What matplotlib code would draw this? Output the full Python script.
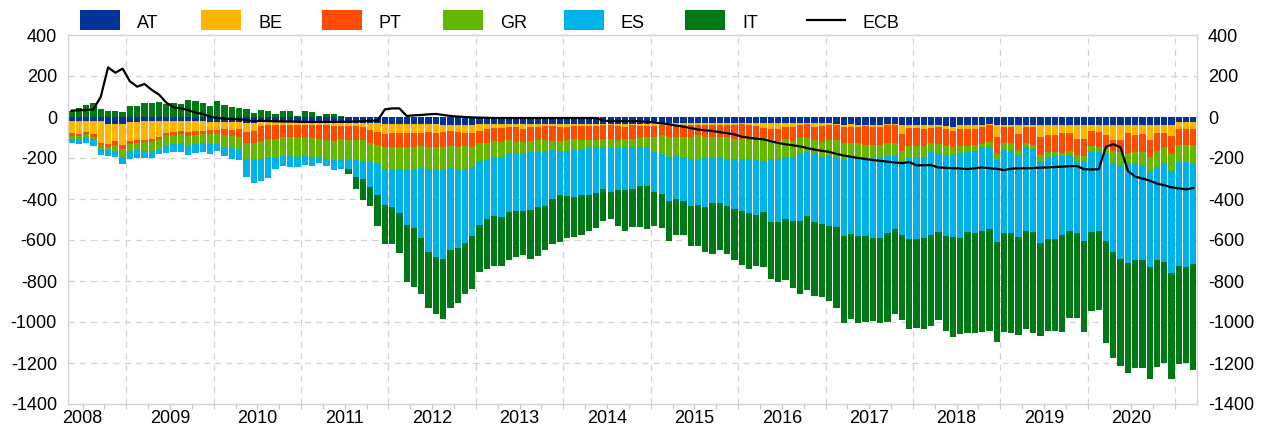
import numpy as np
import pandas as pd
import matplotlib
matplotlib.use("Agg")
import matplotlib.pyplot as plt
from matplotlib.patches import Rectangle
from matplotlib.lines import Line2D

plt.rcParams['font.family'] = ['Liberation Sans', 'DejaVu Sans']

# Monthly observations, May 2008 - March 2021 (EUR bn)
months = pd.period_range('2008-05', '2021-03', freq='M')

AT = [
    -20, -20, -18, -20, -20, -36, -36, -36,
    -25, -22, -20, -20, -20, -20, -20, -20, -20, -20, -20, -22,
    -22, -24, -24, -26, -28, -28, -26, -26, -26, -26, -26, -26,
    -26, -26, -26, -26, -28, -28, -28, -28, -28, -28, -30, -34,
    -34, -34, -34, -34, -34, -36, -36, -37, -37, -37, -37, -37,
    -36, -36, -35, -35, -35, -35, -35, -35, -35, -35, -35, -35,
    -35, -35, -35, -35, -35, -33, -33, -33, -33, -33, -33, -33,
    -31, -31, -31, -31, -31, -31, -31, -31, -31, -31, -31, -31,
    -31, -31, -31, -31, -31, -31, -31, -31, -31, -31, -31, -31,
    -31, -34, -37, -34, -41, -37, -37, -41, -34, -34, -41, -37,
    -37, -37, -37, -41, -44, -50, -37, -41, -37, -37, -34, -37,
    -37, -37, -37, -37, -37, -37, -37, -37, -37, -37, -37, -37,
    -37, -37, -37, -37, -37, -37, -37, -37, -37, -37, -37, -37,
    -24, -24, -24,
]

BE = [
    -56, -63, -55, -61, -107, -94, -83, -102,
    -92, -90, -91, -89, -79, -56, -52, -48, -53, -48, -47, -41,
    -41, -35, -39, -33, -44, -40, -19, -15, -15, -14, -14, -12,
    -14, -14, -14, -14, -14, -14, -16, -18, -20, -35, -42, -49,
    -46, -42, -42, -46, -42, -37, -44, -36, -33, -36, -39, -43,
    -31, -24, -19, -19, -15, -15, -22, -15, -12, -9, -9, -12,
    -12, -9, -9, -9, -9, -4, -8, -11, -14, -7, -9, -9,
    -14, -10, -10, -10, -10, -10, -10, -10, -10, -10, -10, -9,
    -3, -10, -13, -23, -29, -26, -19, -16, -10, -3, -16, -13,
    -6, -7, -13, -13, -9, -7, -10, -6, -7, -7, -42, -17,
    -17, -23, -18, -9, -16, -17, -20, -19, -23, -13, -7, -59,
    -13, -10, -46, -10, -13, -62, -49, -49, -39, -43, -69, -69,
    -30, -36, -53, -73, -73, -43, -51, -46, -75, -43, -43, -56,
    -36, -36, -36,
]

PT = [
    -15, -11, -12, -15, -11, -16, -19, -16,
    -13, -15, -13, -11, -13, -13, -16, -15, -18, -18, -18, -20,
    -13, -29, -30, -40, -53, -57, -70, -68, -65, -59, -59, -61,
    -61, -61, -66, -72, -73, -67, -68, -66, -64, -62, -65, -65,
    -68, -72, -69, -65, -65, -72, -68, -75, -71, -75, -65, -65,
    -61, -65, -61, -66, -62, -70, -63, -65, -65, -68, -71, -68,
    -65, -63, -68, -68, -68, -69, -65, -68, -62, -69, -59, -56,
    -51, -48, -58, -55, -55, -55, -48, -55, -55, -58, -55, -69,
    -75, -71, -68, -48, -49, -58, -59, -70, -60, -70, -65, -76,
    -75, -71, -78, -81, -78, -91, -88, -88, -87, -84, -81, -87,
    -87, -81, -70, -82, -81, -81, -84, -81, -75, -82, -79, -84,
    -78, -81, -78, -81, -85, -88, -85, -85, -98, -84, -81, -84,
    -74, -72, -55, -55, -60, -97, -81, -86, -81, -84, -68, -87,
    -77, -77, -77,
]

GR = [
    -18, -20, -19, -16, -16, -17, -28, -40,
    -34, -34, -43, -46, -49, -48, -45, -45, -49, -46, -43, -50,
    -49, -60, -58, -62, -81, -81, -91, -93, -87, -90, -90, -96,
    -89, -92, -92, -91, -95, -101, -94, -98, -101, -96, -92, -104,
    -107, -107, -110, -107, -107, -107, -107, -107, -106, -111, -111, -100,
    -88, -81, -80, -82, -65, -54, -57, -56, -57, -52, -46, -49,
    -54, -54, -42, -36, -33, -42, -47, -41, -36, -39, -44, -47,
    -76, -91, -98, -94, -101, -109, -121, -102, -99, -96, -109, -96,
    -96, -94, -98, -111, -96, -90, -88, -76, -73, -65, -65, -73,
    -78, -90, -78, -74, -65, -62, -63, -58, -62, -60, -54, -57,
    -52, -52, -44, -45, -43, -39, -36, -30, -32, -16, -28, -30,
    -30, -36, -24, -20, -23, -26, -22, -19, -16, -23, -26, -23,
    -26, -26, -35, -60, -70, -49, -57, -65, -74, -78, -78, -83,
    -81, -76, -89,
]

ES = [
    -19, -18, -24, -28, -30, -27, -28, -37,
    -39, -41, -33, -32, -19, -40, -39, -43, -45, -42, -41, -47,
    -39, -42, -54, -49, -85, -114, -108, -94, -61, -50, -53, -51,
    -44, -46, -25, -36, -49, -45, -49, -84, -88, -119, -151, -177,
    -186, -215, -272, -291, -344, -405, -426, -438, -402, -380, -361, -334,
    -309, -290, -286, -284, -286, -283, -282, -283, -268, -270, -241, -215,
    -218, -231, -226, -231, -224, -205, -211, -203, -211, -203, -192, -192,
    -195, -197, -213, -210, -213, -228, -221, -243, -226, -223, -229, -242,
    -252, -264, -268, -250, -306, -306, -301, -316, -335, -316, -334, -329,
    -340, -333, -374, -369, -387, -383, -390, -395, -377, -363, -357, -395,
    -404, -399, -408, -384, -396, -400, -411, -388, -397, -410, -400, -400,
    -406, -403, -402, -406, -403, -403, -404, -407, -387, -367, -354, -390,
    -392, -383, -423, -435, -451, -485, -472, -464, -463, -456, -481, -500,
    -509, -517, -491,
]

IT = [
    31, 45, 58, 70, 39, 28, 28, 24,
    52, 55, 70, 68, 73, 63, 68, 62, 83, 80, 70, 55,
    76, 60, 49, 44, 37, 21, 34, 28, 15, 31, 31, 5,
    28, 24, 5, 13, 15, 5, -23, -59, -104, -92, -150, -192,
    -180, -195, -276, -285, -273, -276, -280, -294, -284, -267, -250, -262,
    -231, -244, -246, -241, -235, -228, -213, -237, -239, -215, -219, -229,
    -205, -192, -197, -175, -171, -153, -135, -176, -198, -184, -201, -211,
    -165, -164, -197, -177, -166, -195, -197, -216, -246, -229, -234, -251,
    -263, -273, -249, -267, -279, -292, -297, -324, -356, -359, -361, -358,
    -368, -398, -423, -414, -427, -418, -405, -419, -431, -413, -415, -443,
    -434, -444, -443, -429, -464, -485, -471, -493, -491, -489, -496, -486,
    -483, -485, -476, -482, -491, -452, -445, -445, -473, -428, -412, -444,
    -387, -387, -498, -514, -524, -539, -525, -525, -550, -520, -495, -517,
    -480, -468, -517,
]

ECB = [
    31, 33, 34, 37, 99, 242, 216, 236,
    174, 148, 161, 132, 109, 70, 47, 42, 34, 21, 15, 2,
    -5, -8, -10, -11, -15, -21, -18, -20, -21, -22, -22, -23,
    -24, -24, -24, -24, -24, -24, -23, -22, -20, -18, -18, 37,
    42, 42, 5, 8, 10, 13, 15, 10, 5, 2, 0, -2,
    -3, -4, -5, -5, -5, -5, -5, -5, -5, -5, -5, -5,
    -5, -5, -5, -5, -5, -18, -20, -20, -20, -20, -21, -23,
    -27, -31, -35, -42, -47, -54, -61, -65, -68, -74, -79, -85,
    -96, -101, -106, -109, -118, -127, -133, -138, -143, -152, -159, -165,
    -170, -180, -188, -194, -200, -205, -210, -214, -218, -222, -225, -220,
    -236, -235, -235, -246, -248, -250, -251, -254, -250, -246, -250, -253,
    -259, -252, -250, -250, -249, -247, -246, -244, -242, -240, -239, -255,
    -256, -255, -145, -133, -148, -262, -291, -300, -310, -325, -333, -343,
    -348, -353, -346,
]

names = ["AT", "BE", "PT", "GR", "ES", "IT"]
colors = ["#003299", "#FFB400", "#FF4B00", "#65B800", "#00B1EA", "#007816"]
year_labels = [str(y) for y in range(2008, 2021)]

W, H = 1265, 428
fig = plt.figure(figsize=(W / 100, H / 100), dpi=100)
ax = fig.add_axes([68 / W, 1 - 404 / H, (1197 - 68) / W, (404 - 35) / H])

# x position: months since Jan 2008, bar centred in its month
x = np.array([(p.year - 2008) * 12 + p.month - 1 for p in months], float) + 0.5
n = len(x)

pos_bottom = np.zeros(n)
neg_bottom = np.zeros(n)
for name, vals, color in zip(names, [AT, BE, PT, GR, ES, IT], colors):
    v = np.array(vals, float)
    bottom = np.where(v >= 0, pos_bottom, neg_bottom)
    ax.bar(x, v, width=0.86, bottom=bottom, color=color, linewidth=0, zorder=2)
    pos_bottom += np.clip(v, 0, None)
    neg_bottom += np.clip(v, None, 0)

ax.plot(x, ECB, color="black", lw=1.6, zorder=3, solid_joinstyle="round")

ax.set_xlim(4, 159)
ax.set_ylim(-1400, 400)

grid_c = "#d4d4d4"
yticks = np.arange(-1400, 401, 200)
for yv in yticks[1:-1]:
    ax.axhline(yv, color=grid_c, lw=0.9, ls=(0, (5, 4)), zorder=1)
for k in range(1, 14):
    ax.axvline(12 * k, color=grid_c, lw=0.9, ls=(0, (5, 4)), zorder=1)

ax.set_yticks(yticks)
ax.set_yticklabels([f"{int(v)}" for v in yticks])
ax.tick_params(axis="y", length=0, labelsize=13, pad=8,
               labelleft=True, labelright=True, colors="black")

xt = np.arange(6, 159, 3)
ax.set_xticks(xt)
lbls = []
for t in xt:
    if (t - 6) % 12 == 0:
        lbls.append(year_labels[(t - 6) // 12])
    else:
        lbls.append("")
ax.set_xticklabels(lbls)
ax.tick_params(axis="x", length=3.5, width=0.8, color="#c8c8c8", labelsize=13,
               pad=0.5, labelcolor="black")

for s in ax.spines.values():
    s.set_color(grid_c)
    s.set_linewidth(1.0)

# legend across the top
for i, (name, color) in enumerate(zip(names, colors)):
    x0 = 80 + 121 * i
    fig.add_artist(Rectangle((x0 / W, 1 - 30 / H), 40 / W, 20 / H,
                             transform=fig.transFigure, facecolor=color,
                             edgecolor="none"))
    fig.text((x0 + 57) / W, 1 - 27.5 / H, name, fontsize=13, va="baseline",
             ha="left", color="black")
fig.add_artist(Line2D([807 / W, 845 / W], [1 - 20 / H, 1 - 20 / H],
                      transform=fig.transFigure, color="black", lw=1.6))
fig.text(863 / W, 1 - 27.5 / H, "ECB", fontsize=13, va="baseline", ha="left",
         color="black")

fig.savefig("out.png", dpi=100)
